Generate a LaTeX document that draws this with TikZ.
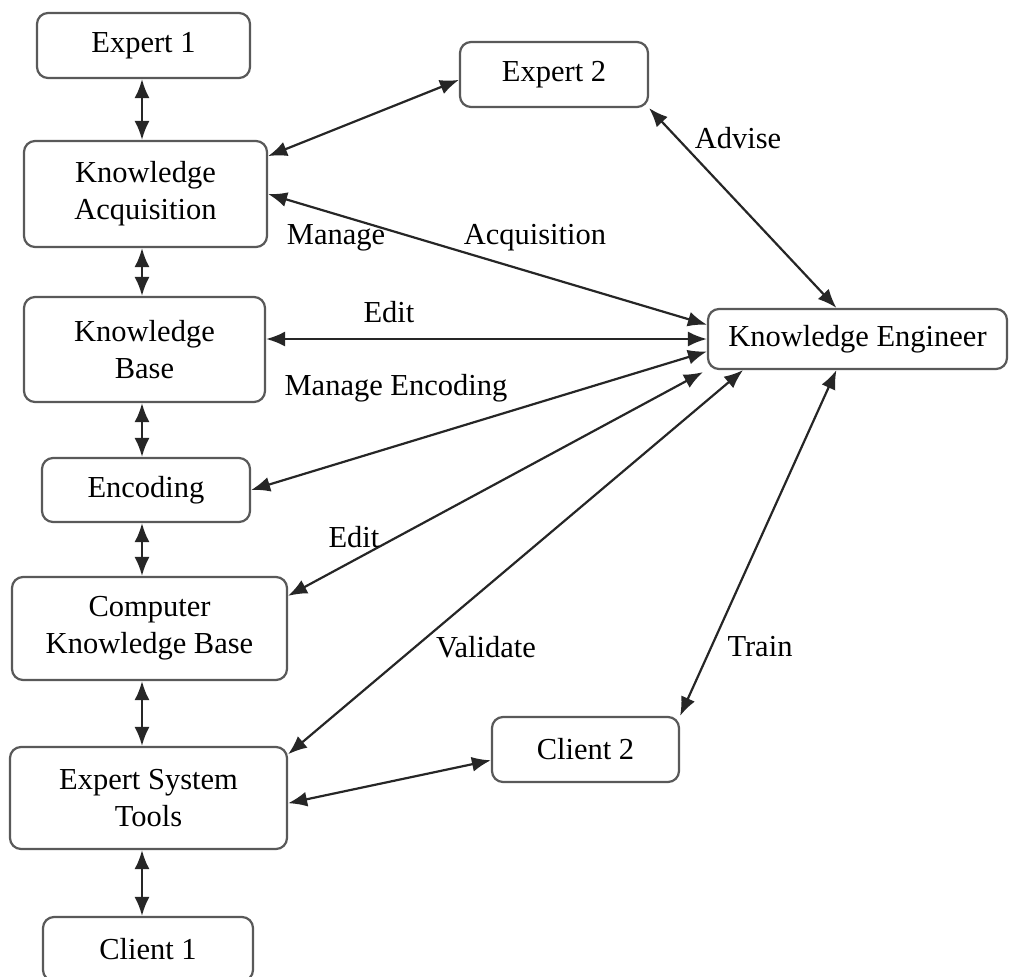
\documentclass[tikz,border=0pt]{standalone}
\usepackage{fontspec}
\setmainfont{Liberation Serif}
\usetikzlibrary{arrows.meta,calc}
\begin{document}
\begin{tikzpicture}[x=1pt,y=-1pt,
  box/.style={draw=black!65, line width=2.2pt, rounded corners=11pt, fill=white,
    align=center, inner sep=0pt, font=\fontsize{30.5}{37}\selectfont},
  lbl/.style={font=\fontsize{30.5}{37}\selectfont, inner sep=1pt},
  link/.style={line width=2.2pt, draw=black!85,
    {Latex[length=19pt,width=15pt]}-{Latex[length=19pt,width=15pt]}},
]
\useasboundingbox (0,0) rectangle (1012,977);

% left column of process stages
\node[box, minimum width=213pt, minimum height=65pt]  (e1)  at (143.5,45.5)  {Expert 1};
\node[box, minimum width=243pt, minimum height=106pt] (ka)  at (145.5,194)   {Knowledge\\Acquisition};
\node[box, minimum width=241pt, minimum height=105pt] (kb)  at (144.5,349.5) {Knowledge\\Base};
\node[box, minimum width=208pt, minimum height=64pt]  (enc) at (146,490)     {Encoding};
\node[box, minimum width=275pt, minimum height=103pt] (ckb) at (149.5,628.5) {Computer\\Knowledge Base};
\node[box, minimum width=277pt, minimum height=102pt] (est) at (148.5,798)   {Expert System\\Tools};
\node[box, minimum width=210pt, minimum height=64pt]  (c1)  at (148,949)     {Client 1};

% participants on the right
\node[box, minimum width=188pt, minimum height=65pt]  (e2)  at (554,74.5)    {Expert 2};
\node[box, minimum width=299pt, minimum height=60pt]  (ke)  at (857.5,339)   {Knowledge Engineer};
\node[box, minimum width=187pt, minimum height=65pt]  (c2)  at (585.5,749.5) {Client 2};

% vertical chain
\coordinate (col) at (142,0);
\draw[link] (e1.south -| col)  -- (ka.north -| col);
\draw[link] (ka.south -| col)  -- (kb.north -| col);
\draw[link] (kb.south -| col)  -- (enc.north -| col);
\draw[link] (enc.south -| col) -- (ckb.north -| col);
\draw[link] (ckb.south -| col) -- (est.north -| col);
\draw[link] (est.south -| col) -- (c1.north -| col);

% links to the experts and clients
\draw[link] ($(ka.north east)!0.15!(ka.south east)$) -- ($(e2.north west)!0.58!(e2.south west)$);
\draw[link] ($(est.north east)!0.55!(est.south east)$) -- ($(c2.north west)!0.66!(c2.south west)$);

% links of the knowledge engineer
\draw[link] (ka.east) -- ($(ke.north west)!0.27!(ke.south west)$);
\draw[link] (kb.east |- ke.west) -- (ke.west);
\draw[link] (enc.east) -- ($(ke.north west)!0.70!(ke.south west)$);
\draw[link] ($(ckb.north east)!0.19!(ckb.south east)$) -- ($(ke.south west)+(-4,2)$);
\draw[link] ($(est.north east)!0.08!(est.south east)$) -- ($(ke.south west)!0.12!(ke.south east)$);
\draw[link] (e2.south east) -- ($(ke.north west)!0.43!(ke.north east)$);
\draw[link] (c2.north east) -- ($(ke.south west)!0.43!(ke.south east)$);

% connector labels
\node[lbl] (lmanage) at (336,238) {Manage};
\node[lbl] (lacq)    at (535,238) {Acquisition};
\node[lbl] (ledit1)  at (389,312) {Edit};
\node[lbl] (lmenc)   at (396,388) {Manage Encoding};
\node[lbl] (ledit2)  at (354,537) {Edit};
\node[lbl] (lval)    at (486,647) {Validate};
\node[lbl] (ltrain)  at (760,647) {Train};
\node[lbl] (ladvise) at (738,138) {Advise};
\end{tikzpicture}
\end{document}
